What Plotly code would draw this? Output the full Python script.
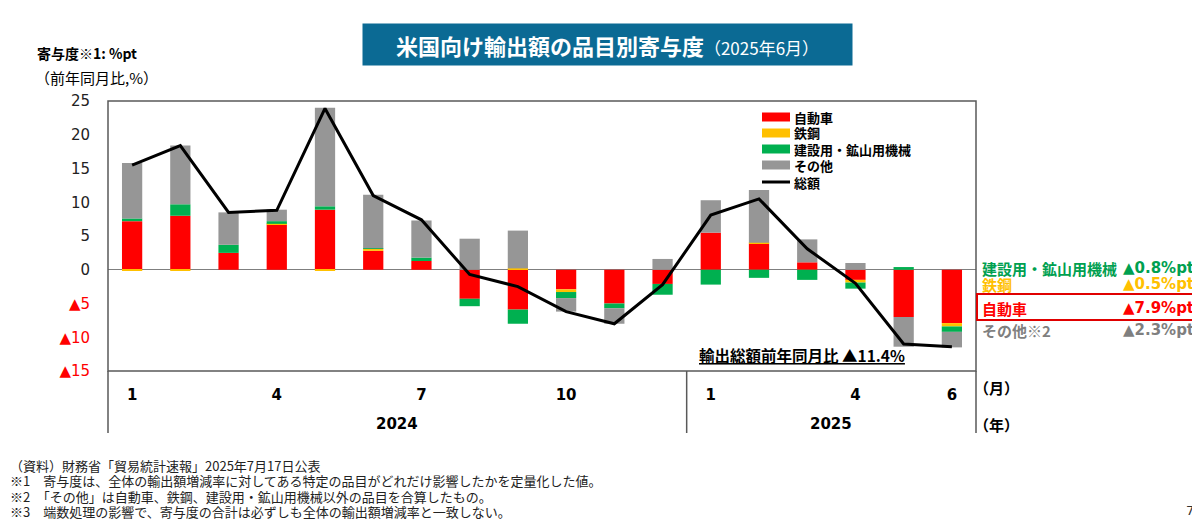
import plotly.graph_objects as go

# 月 (2024年1月〜2025年6月)
months = list(range(18))
month_tickvals = [0, 3, 6, 9, 12, 15, 17]
month_ticktext = ['1', '4', '7', '10', '1', '4', '6']
years = ['2024', '2025']
year_pos = [5.5, 14.5]

# 寄与度 (%pt)
jidousha = [7.2, 8.0, 2.5, 6.7, 8.9, 2.8, 1.3, -4.3, -5.9, -2.9, -5.0, -2.1, 5.5, 3.9, 1.1, -1.5, -7.0, -7.9]
tekko = [-0.1, -0.1, 0.0, 0.1, -0.1, 0.3, 0.0, 0.0, 0.2, -0.4, 0.0, 0.0, 0.0, 0.1, 0.0, -0.4, 0.0, -0.5]
kikai = [0.4, 1.7, 1.2, 0.4, 0.5, 0.1, 0.5, -1.1, -2.1, -0.9, -0.7, -1.6, -2.2, -1.2, -1.5, -0.9, 0.4, -0.8]
sonota = [8.2, 8.7, 4.8, 1.7, 14.6, 7.9, 5.5, 4.6, 5.6, -2.0, -2.3, 1.6, 4.8, 7.8, 3.4, 1.0, -4.4, -2.3]
sogaku = [15.5, 18.4, 8.5, 8.8, 23.9, 11.0, 7.4, -0.7, -2.5, -6.2, -8.0, -2.2, 8.1, 10.5, 3.1, -2.0, -11.0, -11.4]

y_tickvals = [-15, -10, -5, 0, 5, 10, 15, 20, 25]

JP = 'Noto Sans CJK JP'
NUM = 'DejaVu Sans, Noto Sans CJK JP'
LINE = '#595959'

# ページの余白(8px)を差し引いた図の大きさと描画領域
OFF = 8
FW, FH = 1200 - OFF, 520 - OFF
L, T, W, H = 108 - OFF, 101 - OFF, 868, 270


def px(xp):
    # 参照画像の x(px) -> paper 座標
    return (xp - OFF - L) / W


def py(yp):
    # 参照画像の y(px) -> paper 座標
    return (T + H - (yp - OFF)) / H


def nota(x, y, text, size, color='black', xanchor='left', family=JP, xref='paper'):
    fig.add_annotation(x=x, xref=xref, y=py(y), yref='paper', xanchor=xanchor,
                       yanchor='middle', text=text, showarrow=False,
                       font=dict(size=size, color=color, family=family))


series = [('自動車', jidousha, '#FF0000'),
          ('鉄鋼', tekko, '#FFC000'),
          ('建設用・鉱山用機械', kikai, '#00B050'),
          ('その他', sonota, '#969696')]

fig = go.Figure()

# 積み上げ棒
for nombre, valores, color in series:
    fig.add_trace(go.Bar(x=months, y=valores, name=nombre,
                         marker=dict(color=color, line=dict(width=0))))

# 総額の線
fig.add_trace(go.Scatter(x=months, y=sogaku, name='総額', mode='lines',
                         line=dict(color='black', width=3)))

# 目盛ラベル (負の値は▲で赤)
y_ticktext = []
for v in y_tickvals:
    if v < 0:
        y_ticktext.append('<span style="color:#FF0000">▲%d</span>' % abs(v))
    else:
        y_ticktext.append(str(v))

fig.update_layout(
    width=FW, height=FH,
    margin=dict(l=L, r=FW - L - W, t=T, b=FH - T - H),
    paper_bgcolor='white', plot_bgcolor='white',
    barmode='relative', bargap=0.58,
    font=dict(family=JP, color='black'),
    showlegend=False,
    xaxis=dict(range=[-0.5, 17.5], tickvals=month_tickvals,
               ticktext=['<b>' + t + '</b>' for t in month_ticktext],
               showgrid=False, zeroline=False, showline=False, ticks='',
               tickfont=dict(size=15, family=NUM, color='black'),
               ticklabelstandoff=13, automargin=False),
    yaxis=dict(range=[-15, 25], tickvals=y_tickvals, ticktext=y_ticktext,
               showgrid=False, zeroline=True, zerolinecolor='#7F7F7F', zerolinewidth=1.3,
               showline=False, ticks='',
               tickfont=dict(size=15, family=NUM, color='#222222'),
               ticklabelstandoff=17, automargin=False),
)

# 凡例 (手作り)
legend_rows = [117, 133, 149, 165, 182]
for (nombre, _, color), yrow in zip(series, legend_rows):
    fig.add_shape(type='rect', xref='paper', yref='paper', x0=px(762), x1=px(790),
                  y0=py(yrow + 4.5), y1=py(yrow - 4.5), fillcolor=color, line=dict(width=0))
    nota(px(792), yrow, '<b>' + nombre + '</b>', 13)
fig.add_shape(type='line', xref='paper', yref='paper', x0=px(762), x1=px(790),
              y0=py(legend_rows[4]), y1=py(legend_rows[4]), line=dict(color='black', width=3))
nota(px(792), legend_rows[4], '<b>総額</b>', 13)

# 枠線
fig.add_shape(type='rect', xref='paper', yref='paper', x0=0, x1=1, y0=0, y1=1,
              line=dict(color=LINE, width=1.5))
for xv in [0, 1]:
    fig.add_shape(type='line', xref='paper', yref='paper', x0=xv, x1=xv, y0=py(433), y1=0,
                  line=dict(color=LINE, width=1.5))
fig.add_shape(type='line', xref='x', yref='paper', x0=11.5, x1=11.5, y0=py(433), y1=0,
              line=dict(color=LINE, width=1.5))

# 年ラベル
for yr, pos in zip(years, year_pos):
    nota(pos, 424, '<b>' + yr + '</b>', 15, xanchor='center', family=NUM, xref='x')
nota(px(996), 387, '<b>（月）</b>', 15, xanchor='center')
nota(px(996), 424, '<b>（年）</b>', 15, xanchor='center')

# タイトル
fig.add_annotation(x=px(607.5), xref='paper', y=py(44.5), yref='paper',
                   xanchor='center', yanchor='middle',
                   text='<b>米国向け輸出額の品目別寄与度</b><span style="font-size:17px">（2025年6月）</span>',
                   showarrow=False, font=dict(size=22, color='white'),
                   bgcolor='#0B6A94', width=489, height=41, borderpad=0)

# 軸タイトル
nota(px(35), 53, '<b>寄与度※1: %pt</b>', 14)
nota(px(33), 78, '（前年同月比,%）', 15)

# 輸出総額
nota(px(802), 355, '<u><b>輸出総額前年同月比 ▲11.4%</b></u>', 15.5, xanchor='center')

# 右側の品目別寄与度
fig.add_shape(type='rect', xref='paper', yref='paper', x0=px(977), x1=px(1197),
              y0=py(320), y1=py(294), line=dict(color='#E00000', width=2))
for nombre, valor, color, yy in [('建設用・鉱山用機械', '▲0.8%pt', '#00A050', 268),
                                 ('鉄鋼', '▲0.5%pt', '#FFC000', 284),
                                 ('自動車', '▲7.9%pt', '#FF0000', 308),
                                 ('その他※2', '▲2.3%pt', '#7F7F7F', 330)]:
    nota(px(980), yy, '<b>' + nombre + '</b>', 15, color=color)
    nota(px(1196), yy, '<b>' + valor + '</b>', 15, color=color, xanchor='right', family=NUM)

# 注記
notas = ['（資料）財務省「貿易統計速報」2025年7月17日公表',
         '※1　寄与度は、全体の輸出額増減率に対してある特定の品目がどれだけ影響したかを定量化した値。',
         '※2　「その他」は自動車、鉄鋼、建設用・鉱山用機械以外の品目を合算したもの。',
         '※3　端数処理の影響で、寄与度の合計は必ずしも全体の輸出額増減率と一致しない。']
for i, texto in enumerate(notas):
    nota(px(OFF), 465 + 15.5 * i, texto, 13, color='#222222')

nota(px(1190), 510, '7', 13, color='#333333', xanchor='center', family=NUM)

fig.write_html('out.html')
